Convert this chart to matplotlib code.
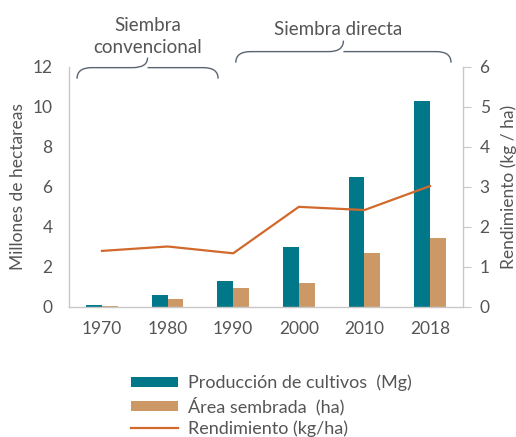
import numpy as np
import matplotlib.pyplot as plt
from matplotlib.path import Path
from matplotlib.patches import PathPatch

plt.rcParams['font.family'] = ['Lato', 'DejaVu Sans']

years = ['1970', '1980', '1990', '2000', '2010', '2018']
produccion = [0.08, 0.58, 1.3, 2.98, 6.5, 10.3]
area = [0.05, 0.4, 0.97, 1.18, 2.7, 3.42]
rendimiento = [1.4, 1.51, 1.34, 2.5, 2.42, 3.02]

teal = '#00788a'
tan = '#cc9966'
orange = '#d2692c'
grey = '#555555'
spine_grey = '#c8c8c8'

fig = plt.figure(figsize=(5.16, 4.37), dpi=100)
ax = fig.add_axes([0.134, 0.2975, 0.763, 0.55])
ax2 = ax.twinx()

x = np.arange(len(years))
w = 0.24
b1 = ax.bar(x - w / 2, produccion, w, color=teal, label='Producción de cultivos  (Mg)')
b2 = ax.bar(x + w / 2, area, w, color=tan, label='Área sembrada  (ha)')
l1, = ax2.plot(x, rendimiento, color=orange, lw=1.6, label='Rendimiento (kg/ha)')

ax.set_xlim(-0.5, 5.5)
ax.set_ylim(0, 12)
ax2.set_ylim(0, 6)
ax.set_xticks(x)
ax.set_xticklabels(years)
ax.set_yticks(range(0, 13, 2))
ax2.set_yticks(range(0, 7))

for a in (ax, ax2):
    for s in a.spines.values():
        s.set_visible(False)
ax.spines['left'].set_visible(True)
ax.spines['bottom'].set_visible(True)
ax2.spines['right'].set_visible(True)
for s in (ax.spines['left'], ax.spines['bottom'], ax2.spines['right']):
    s.set_color(spine_grey)
    s.set_linewidth(1.0)

ax.tick_params(axis='x', length=0, labelsize=12.5, colors=grey, pad=10)
ax.tick_params(axis='y', length=0, labelsize=12.5, colors=grey, pad=12)
ax2.tick_params(axis='y', length=6, labelsize=12.5, colors=grey, pad=6)
ax2.tick_params(axis='y', color=spine_grey)
ax.set_ylabel('Millones de hectareas', fontsize=12.5, color=grey, labelpad=5)
ax2.set_ylabel('Rendimiento (kg / ha)', fontsize=12.5, color=grey, labelpad=8)


def brace(x0, x1, ylow, yhigh, ypeak):
    # curly brace drawn in data coords, opening downward
    xm = (x0 + x1) / 2
    r = 0.15
    verts = [(x0, ylow), (x0, yhigh), (x0 + r * 1.5, yhigh),
             (xm - r * 1.5, yhigh),
             (xm, yhigh), (xm, ypeak),
             (xm, yhigh), (xm + r * 1.5, yhigh),
             (x1 - r * 1.5, yhigh),
             (x1, yhigh), (x1, ylow)]
    codes = [Path.MOVETO, Path.CURVE3, Path.CURVE3,
             Path.LINETO,
             Path.CURVE3, Path.CURVE3,
             Path.MOVETO, Path.CURVE3,
             Path.LINETO,
             Path.CURVE3, Path.CURVE3]
    p = PathPatch(Path(verts, codes), fill=False, ec='#5a6470', lw=1.0, clip_on=False)
    ax.add_patch(p)


brace(-0.38, 1.77, 11.4, 11.95, 12.45)
brace(2.04, 5.32, 12.2, 12.75, 13.3)
ax.text(0.7, 12.55, 'Siembra\nconvencional', ha='center', va='bottom',
        fontsize=13.5, color=grey, linespacing=1.35)
ax.text(3.6, 13.45, 'Siembra directa', ha='center', va='bottom',
        fontsize=13.5, color=grey)

fig.legend([b1, b2, l1], [b1.get_label(), b2.get_label(), l1.get_label()],
           loc='upper left', bbox_to_anchor=(0.236, 0.163), frameon=False,
           fontsize=13, labelcolor=grey, handlelength=2.6, handleheight=0.55,
           labelspacing=0.3, borderpad=0, handletextpad=0.55)

fig.savefig('out.png', dpi=100)
